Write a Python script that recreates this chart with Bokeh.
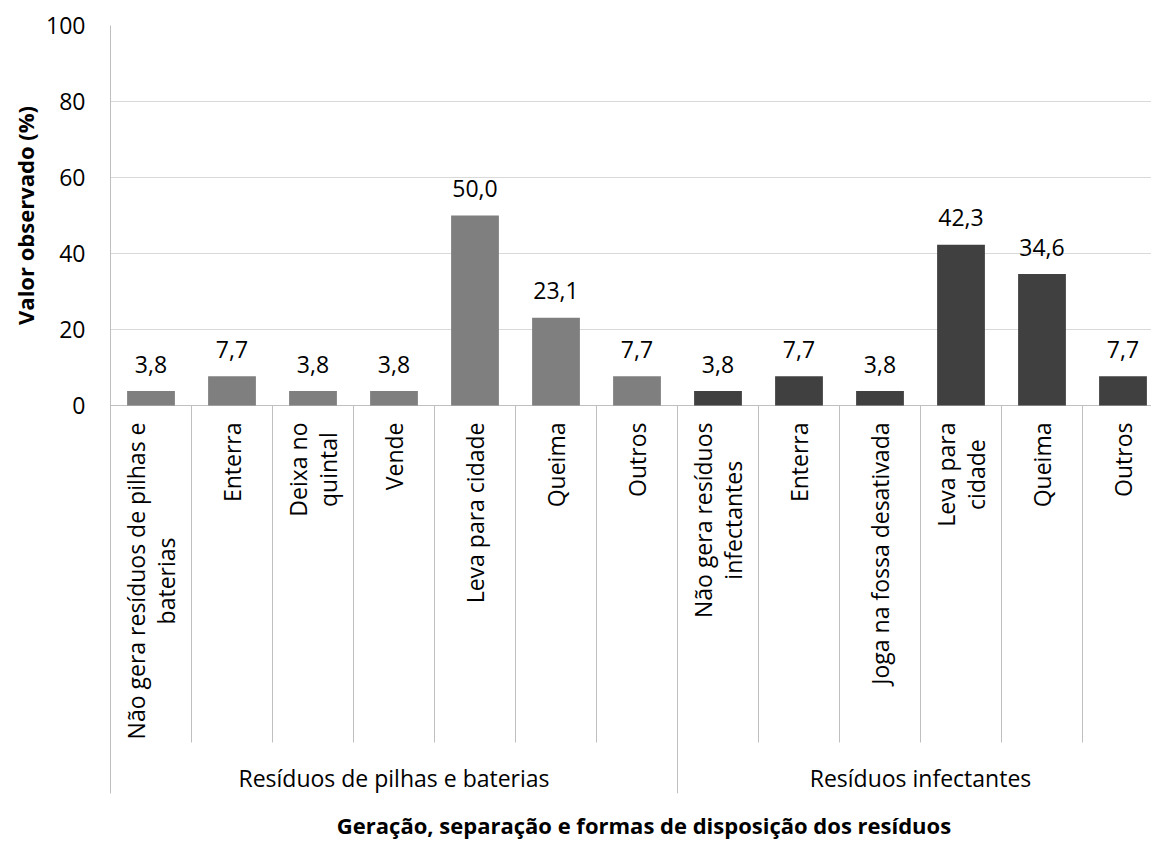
import math
from bokeh.plotting import figure
from bokeh.models import Range1d, FixedTicker
from bokeh.core.properties import value
from bokeh.embed import file_html
from bokeh.resources import INLINE

# ---------------- data ----------------
group_names = ["Resíduos de pilhas e baterias", "Resíduos infectantes"]
cats_pilhas = ["Não gera resíduos de pilhas e\nbaterias", "Enterra", "Deixa no\nquintal",
               "Vende", "Leva para cidade", "Queima", "Outros"]
vals_pilhas = [3.8, 7.7, 3.8, 3.8, 50.0, 23.1, 7.7]
cats_infect = ["Não gera resíduos\ninfectantes", "Enterra", "Joga na fossa desativada",
               "Leva para\ncidade", "Queima", "Outros"]
vals_infect = [3.8, 7.7, 3.8, 42.3, 34.6, 7.7]
y_ticks = [0, 20, 40, 60, 80, 100]
y_title = "Valor observado (%)"
x_title = "Geração, separação e formas de disposição dos resíduos"

# ---------------- layout ----------------
W, H = 1151, 841
BL, BT, BB, BR = 110, 25, 48, 0
FRAME_W = W - BL - BR
FRAME_H = H - BT - BB
CAT_PX = 81.0
PX_PER_UNIT = 3.8
FONT = value("Open Sans")
FS = "23px"

n1, n2 = len(cats_pilhas), len(cats_infect)
x1 = [i + 0.5 for i in range(n1)]
x2 = [n1 + i + 0.5 for i in range(n2)]
ymin = 100 - FRAME_H / PX_PER_UNIT

p = figure(width=W, height=H,
           x_range=Range1d(0, FRAME_W / CAT_PX),
           y_range=Range1d(ymin, 100),
           x_axis_location=None, output_backend="svg", toolbar_location=None,
           min_border_left=BL, min_border_right=BR, min_border_top=BT, min_border_bottom=BB)
p.outline_line_color = None
p.background_fill_color = "white"

# y axis
p.yaxis.ticker = FixedTicker(ticks=y_ticks)
p.yaxis.axis_line_color = "#bfbfbf"
p.yaxis.major_tick_out = 0
p.yaxis.major_tick_in = 0
p.yaxis.minor_tick_line_color = None
p.yaxis.major_label_standoff = 25
p.yaxis.major_label_text_font = "Open Sans"
p.yaxis.major_label_text_font_size = FS
p.yaxis.major_label_text_color = "black"
p.ygrid.ticker = FixedTicker(ticks=y_ticks)
p.ygrid.grid_line_color = "#d9d9d9"
p.xgrid.visible = False

# baseline
p.segment(x0=[0], y0=[0], x1=[n1 + n2], y1=[0], line_color="#bfbfbf", line_width=1)

# bars
BAR_W = 0.59
p.vbar(x=x1, top=vals_pilhas, width=BAR_W, fill_color="#7f7f7f", line_color=None)
p.vbar(x=x2, top=vals_infect, width=BAR_W, fill_color="#404040", line_color=None)

# value labels
fmt = lambda v: f"{v:.1f}".replace(".", ",")
p.text(x=x1 + x2, y=vals_pilhas + vals_infect,
       text=[fmt(v) for v in vals_pilhas + vals_infect],
       text_align="center", text_baseline="alphabetic", y_offset=-27,
       text_font=FONT, text_font_size=FS, text_color="black")

# separators between categories
sep_inner_bottom = -(742 - 405) / PX_PER_UNIT
inner = [i for i in range(1, n1)] + [n1 + i for i in range(1, n2)]
p.segment(x0=inner, y0=[0] * len(inner), x1=inner, y1=[sep_inner_bottom] * len(inner),
          line_color="#bfbfbf", line_width=1)
outer = [n1, n1 + n2]
p.segment(x0=outer, y0=[0] * len(outer), x1=outer, y1=[ymin] * len(outer),
          line_color="#bfbfbf", line_width=1)

# category labels (rotated)
p.text(x=x1 + x2, y=[0] * (n1 + n2), text=cats_pilhas + cats_infect,
       angle=math.pi / 2, anchor="center_right", text_align="center",
       y_offset=17, text_line_height=0.95,
       text_font=FONT, text_font_size=FS, text_color="black")

# group labels
p.text(x=[n1 / 2, n1 + n2 / 2], y=[0, 0], text=group_names,
       text_align="center", text_baseline="middle", y_offset=372,
       text_font=FONT, text_font_size=FS, text_color="black")

# axis titles
p.text(x=[0], y=[50], text=[y_title], angle=math.pi / 2, x_offset=-86,
       text_align="center", text_baseline="middle",
       text_font=FONT, text_font_size="22px", text_font_style="bold",
       text_color="black", level="overlay")
p.text(x=[(n1 + n2) / 2], y=[0], text=[x_title], y_offset=419, x_offset=7,
       text_align="center", text_baseline="middle",
       text_font=FONT, text_font_size="22px", text_font_style="bold",
       text_color="black", level="overlay")

open("out.html", "w").write(file_html(p, INLINE))
